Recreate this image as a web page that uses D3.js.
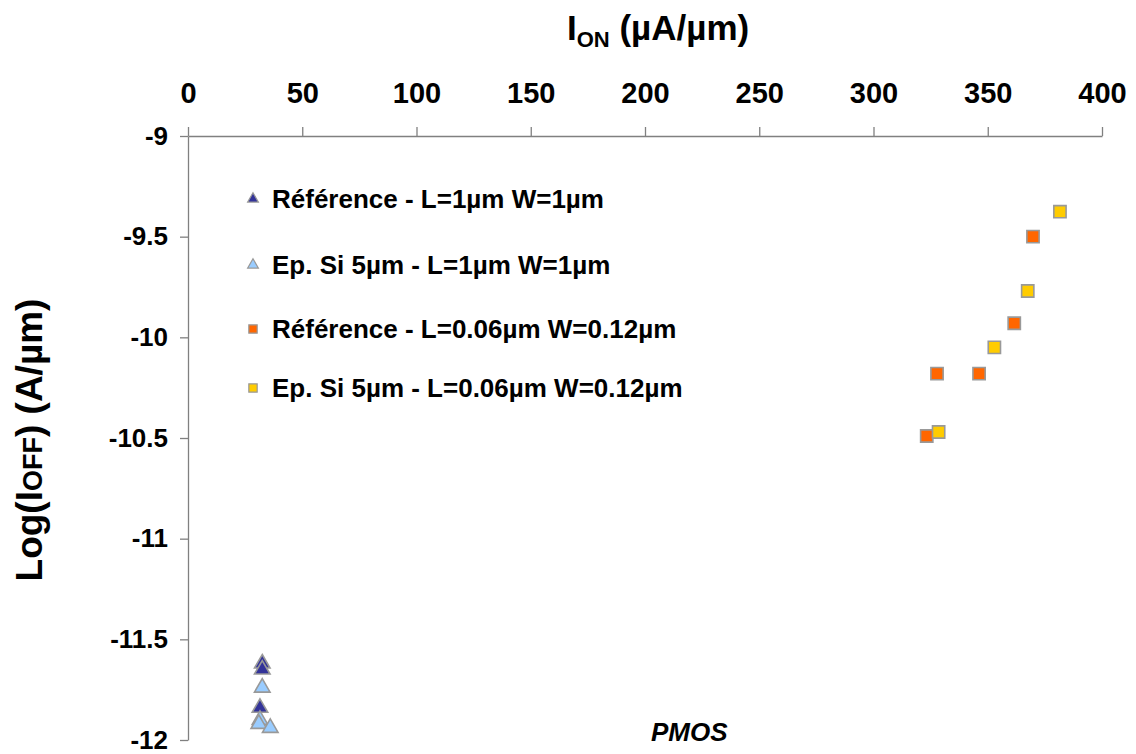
<!DOCTYPE html>
<html><head><meta charset="utf-8">
<script src="https://cdn.jsdelivr.net/npm/d3@7"></script>
<style>body{margin:0;background:#fff}svg{display:block}text{font-family:"Liberation Sans",Arial,sans-serif;font-weight:bold}</style>
</head><body>
<svg id="c" width="1136" height="754"></svg>
<script>
const xTicks = [0,50,100,150,200,250,300,350,400];
const yTicks = [-9,-9.5,-10,-10.5,-11,-11.5,-12];
const seriesNames = ["Référence - L=1µm W=1µm","Ep. Si 5µm - L=1µm W=1µm","Référence - L=0.06µm W=0.12µm","Ep. Si 5µm - L=0.06µm W=0.12µm"];
const seriesColors = ["#333399","#99CCFF","#FF6600","#FFCC00"];
const seriesShapes = ["triangle","triangle","square","square"];
const refLongX = [32.5,32.5,31.5];
const refLongY = [-11.62,-11.65,-11.84];
const epiLongX = [32.5,31.5,31,36];
const epiLongY = [-11.74,-11.90,-11.92,-11.94];
const refShortX = [369.8,361.6,346.2,327.8,323.3];
const refShortY = [-9.50,-9.93,-10.18,-10.18,-10.49];
const epiShortX = [381.6,367.5,352.9,328.5];
const epiShortY = [-9.376,-9.77,-10.05,-10.47];
const seriesX = [refLongX,epiLongX,refShortX,epiShortX];
const seriesY = [refLongY,epiLongY,refShortY,epiShortY];

const svg = d3.select("#c");
const x = d3.scaleLinear().domain([0,400]).range([188,1102]);
const y = d3.scaleLinear().domain([-9,-12]).range([136,740]);
const axisColor = "#808080";

const gx = svg.append("g").attr("transform",`translate(0,${y(-9)})`)
  .call(d3.axisTop(x).tickValues(xTicks).tickSize(9).tickSizeOuter(0).tickPadding(24));
const gy = svg.append("g").attr("transform",`translate(${x(0)},0)`)
  .call(d3.axisLeft(y).tickValues(yTicks).tickSize(8).tickSizeOuter(0).tickPadding(12).tickFormat(d=>String(d)));
[gx,gy].forEach(g=>{
  g.select(".domain").attr("stroke",axisColor).attr("stroke-width",1.3);
  g.selectAll(".tick line").attr("stroke",axisColor).attr("stroke-width",1.3);
  g.selectAll(".tick text").attr("fill","#000").style("font-family","Liberation Sans, Arial, sans-serif").style("font-weight","bold");
});
gx.selectAll(".tick text").style("font-size","29px");
gy.selectAll(".tick text").style("font-size","26px");

const sym = (shape,s)=> shape==="triangle" ? d3.symbol(d3.symbolTriangle, s)() : d3.symbol(d3.symbolSquare, s)();

seriesX.forEach((xs,i)=>{
  const pts = xs.map((v,j)=>[v,seriesY[i][j]]);
  svg.append("g").selectAll("path").data(pts).join("path")
    .attr("transform",d=>`translate(${x(d[0])},${y(d[1])})`)
    .attr("d", sym(seriesShapes[i], seriesShapes[i]==="triangle"?105:150))
    .attr("fill",seriesColors[i]).attr("stroke","#999").attr("stroke-width",1.6);
});

// legend
const legY = [199,265,329,388];
seriesNames.forEach((n,i)=>{
  svg.append("path").attr("transform",`translate(253,${legY[i]})`)
    .attr("d", sym(seriesShapes[i], seriesShapes[i]==="triangle"?50:70))
    .attr("fill",seriesColors[i]).attr("stroke","#999").attr("stroke-width",1.2);
  svg.append("text").attr("x",272).attr("y",legY[i]+9).attr("font-size","26px").text(n);
});

// x title
const xt = svg.append("text").attr("x",567).attr("y",40).attr("font-size","35px");
xt.append("tspan").text("I");
xt.append("tspan").attr("font-size","22px").attr("dy",7).text("ON");
xt.append("tspan").attr("dy",-7).text(" (µA/µm)");

// y title
const yt = svg.append("text").attr("transform","translate(42,440) rotate(-90)").attr("text-anchor","middle").attr("font-size","37px");
yt.append("tspan").text("Log(I");
yt.append("tspan").attr("font-size","27px").text("OFF");
yt.append("tspan").text(") (A/µm)");

svg.append("text").attr("x",651).attr("y",741).attr("font-size","26px").attr("font-style","italic").text("PMOS");
</script>
</body></html>
